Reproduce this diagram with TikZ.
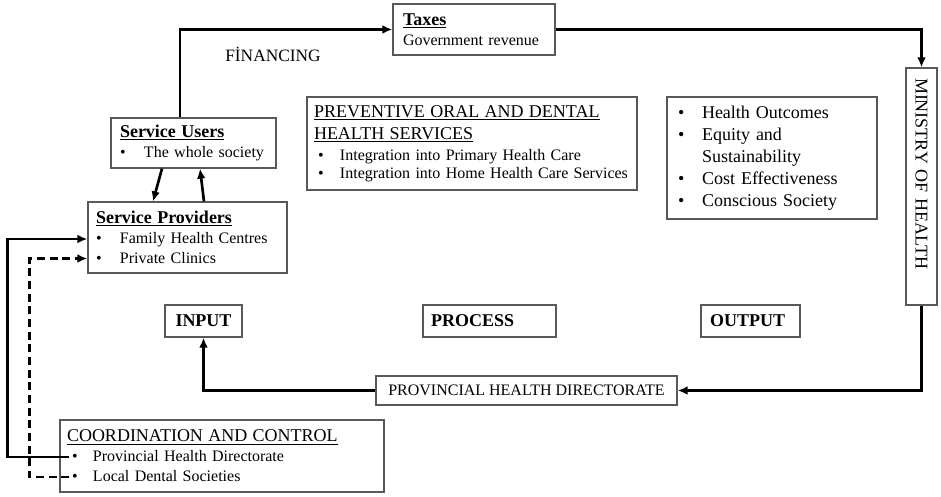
\documentclass[tikz,border=0pt]{standalone}
\usepackage{fontspec}
\setmainfont{Liberation Serif}
\usetikzlibrary{calc,arrows.meta}
\newcommand{\bodyfont}{\fontsize{12}{15}\selectfont}
\newcommand{\headfont}{\fontsize{13.5}{16.5}\selectfont}
\newcommand{\listdot}[1][18pt]{\makebox[#1][l]{\textbullet}}

\begin{document}
\begin{tikzpicture}[x=0.75pt, y=-0.75pt,
  box/.style={draw=black!65, line width=0.9pt, inner ysep=0pt, font=\bodyfont, align=left},
  flow/.style={line width=2pt, -{Latex[length=7.5pt,width=6.5pt]}},
  flowdash/.style={flow, dash pattern=on 6pt off 3.5pt}]
\useasboundingbox (0,0) rectangle (941,496);

%---------------- financing loop -----------------
\node[box, minimum width=121.5pt, minimum height=38.25pt, text width=106.5pt, inner xsep=7.5pt]
  (taxes) at (474,29.5) {{\headfont\bfseries\underline{Taxes}}\\Government revenue};
\node[font=\fontsize{13}{15}\selectfont] (fin) at (273,54) {FİNANCING};
\node[box, rotate=-90, minimum height=23.25pt, text width=162.75pt, inner xsep=7.5pt, font=\headfont]
  (moh) at (921.5,186.5) {MINISTRY OF HEALTH};

%---------------- input side -----------------
\node[box, minimum width=123.75pt, minimum height=37.5pt, text width=110.25pt, inner xsep=6.75pt]
  (users) at (193.5,143) {{\headfont\bfseries\underline{Service Users}}\\\listdot The whole society};
\node[box, minimum width=149.25pt, minimum height=53.25pt, text width=137.25pt, inner xsep=6pt]
  (providers) at (187.5,237.5)
  {{\headfont\bfseries\underline{Service Providers}}\\\listdot Family Health Centres\\\listdot Private Clinics};
\node[box, minimum width=243pt, minimum height=54pt, text width=232.5pt, inner xsep=5.25pt]
  (coord) at (222,456)
  {{\headfont\underline{COORDINATION AND CONTROL}}\\
   \hspace*{3.75pt}\listdot[15.75pt]Provincial Health Directorate\\
   \hspace*{3.75pt}\listdot[15.75pt]Local Dental Societies};

%---------------- process and output -----------------
\node[box, minimum width=247.5pt, minimum height=69.75pt, text width=237pt, inner xsep=5.25pt]
  (prevent) at (472,143.5)
  {{\headfont\underline{PREVENTIVE ORAL AND DENTAL}}\\[1.5pt]
   {\headfont\underline{HEALTH SERVICES}}\\[1pt]
   \hspace*{3pt}\listdot[16.5pt]Integration into Primary Health Care\\[-1.5pt]
   \hspace*{3pt}\listdot[16.5pt]Integration into Home Health Care Services};
\node[box, minimum width=157.5pt, minimum height=91.5pt, text width=141pt, inner xsep=8.25pt,
  font=\fontsize{13.5}{16.5}\selectfont] (outcomes) at (772,158)
  {\listdot Health Outcomes\\\listdot Equity and\\\hspace*{18pt}Sustainability\\
   \listdot Cost Effectiveness\\\listdot Conscious Society};

%---------------- stage labels -----------------
\node[box, minimum width=57.75pt, minimum height=24pt, font=\headfont\bfseries, align=center]
  (input) at (203.5,321) {INPUT};
\node[box, minimum height=24pt, text width=87.75pt, inner xsep=6pt, font=\headfont\bfseries]
  (process) at (489.5,321) {PROCESS};
\node[box, minimum height=24pt, text width=60.75pt, inner xsep=6.75pt, font=\headfont\bfseries]
  (output) at (750.5,321) {OUTPUT};
\node[box, minimum width=225.75pt, minimum height=21.75pt, align=center]
  (provincial) at (526.5,390.5) {PROVINCIAL HEALTH DIRECTORATE};

%---------------- connectors -----------------
\draw[flow] ($(users.north)+(-13.5,0)$) |- (taxes.west);
\draw[flow] (taxes.east) -| (moh.west);
\draw[flow] (moh.east) |- (provincial.east);
\draw[flow] (provincial.west) -| (input.south);
\draw[flow] ($(users.south)+(-31.5,0)$) -- ($(providers.north)+(-34.5,0)$);
\draw[flow] ($(providers.north)+(16.5,0)$) -- ($(users.south)+(6.5,0)$);
% control lines from the two bullets
\coordinate (phd) at ($(coord.west)+(10,1)$);
\coordinate (lds) at ($(coord.west)+(10,21)$);
\draw[flow] (phd) -- ++(-62,0) |- ($(providers.west)+(0,1.5)$);
\draw[flowdash] (lds) -- ++(-40,0) |- ($(providers.west)+(0,21)$);

\end{tikzpicture}
\end{document}
